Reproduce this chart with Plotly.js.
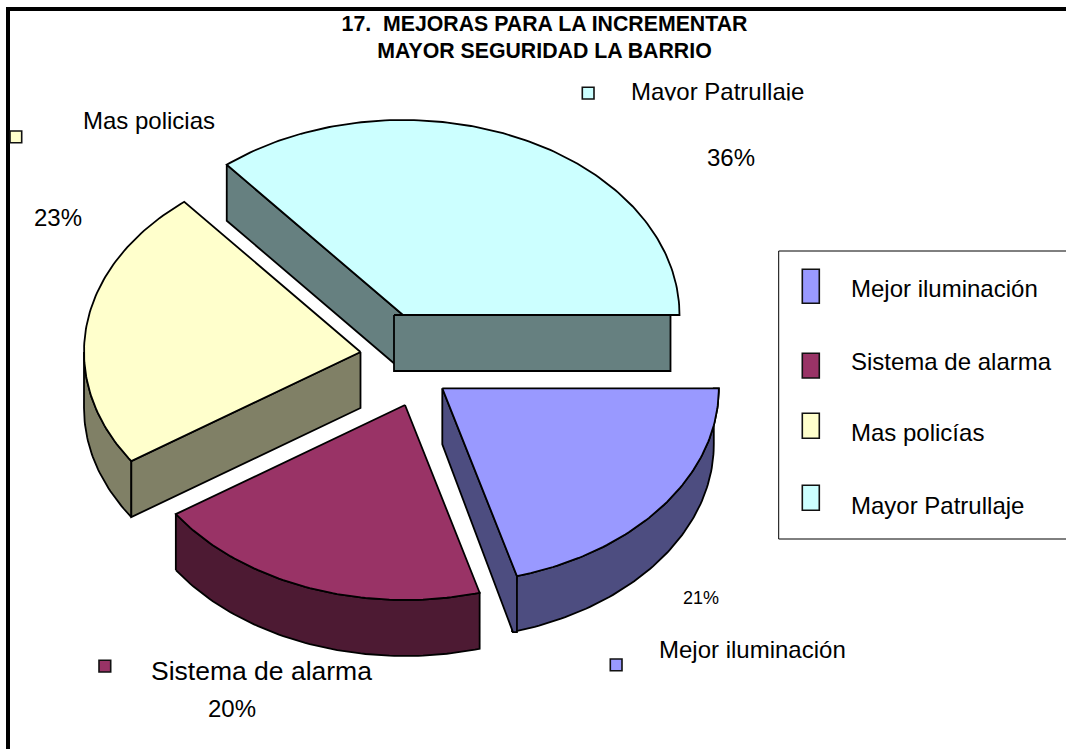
<!DOCTYPE html>
<html><head><meta charset="utf-8">
<script src="https://cdn.plot.ly/plotly-3.0.1.min.js"></script>
<style>html,body{margin:0;padding:0;background:#fff;overflow:hidden}</style>
</head><body><div id="chart" style="width:1066px;height:749px"></div>
<script>
// Data (clockwise from the east, as in the legend)
const categories = ["Mejor iluminación","Sistema de alarma","Mas policías","Mayor Patrullaje"];
const sliceLabels = ["Mejor iluminación","Sistema de alarma","Mas policias","Mayor Patrullaje"];
const values = [20.65, 19.9, 23.45, 36.0];
const topColors = ["#9999FF","#993366","#FFFFCC","#CCFFFF"];
const wallColors = ["#4D4D80","#4D1A33","#808066","#668080"];
const titleLines = ["17.\u00a0\u00a0MEJORAS PARA LA INCREMENTAR","MAYOR SEGURIDAD LA BARRIO"];

// Layout of the exploded, tilted pie (chart units are pixels of the canvas)
const rx = 276.5, ry = 195, depth = 56;
const centerX = [442.3, 405, 360.5, 403];
const centerY = [388.3, 405, 352, 315];
const wallShift = [-5, 0, 0, 0];
const labelPos = [[658,649,24],[150,671,26.5],[82,120,24],[630,91,24]];
const pctPos = [[682,598,18],[207,708,24],[33,217,24],[706,157,24]];
const markPos = [[610.3,659],[99,660.3],[10,131],[582.3,87.3]];
const legendSwatchY = [[269.3,303.3],[353.3,378],[413.3,438.3],[485.3,510.3]];
const legendTextY = [288,361,432,505];

// Slice angles
const t0 = [], t1 = []; let run = 0;
values.forEach((v,i)=>{ t0[i] = -run*3.6; run += v; t1[i] = -run*3.6; });
const pt = (i,t,dx=0,dy=0)=>{ const a=t*Math.PI/180; return [centerX[i]+rx*Math.cos(a)+dx, centerY[i]-ry*Math.sin(a)+dy]; };
const arc = (i,a,b,dx=0,dy=0)=>{ const out=[], n=Math.max(2,Math.ceil(Math.abs(b-a))); for(let k=0;k<=n;k++) out.push(pt(i,a+(b-a)*k/n,dx,dy)); return out; };

const traces = [];
function poly(points,color){
  traces.push({type:"scatter",mode:"lines",x:points.map(p=>p[0]).concat([points[0][0]]),y:points.map(p=>p[1]).concat([points[0][1]]),
    fill:"toself",fillcolor:color,line:{color:"#000",width:1.8,shape:"linear"},hoverinfo:"skip",showlegend:false,cliponaxis:false});
}
function outerWall(i){
  const a=Math.max(t1[i],-180), b=Math.min(t0[i],0);
  if(a>=b) return;
  const low=arc(i,a,b,wallShift[i],depth), top=arc(i,b,a);
  const end=low[low.length-1];
  poly(low.concat([[end[0],pt(i,b)[1]]]).concat(top),wallColors[i]);
}
function cutFace(i,t,sa,se,shiftTop){
  const ax=centerX[i], ay=centerY[i], e=pt(i,t);
  const ta=shiftTop?sa:0, te=shiftTop?se:0;
  poly([[ax+ta,ay],[ax+sa,ay+depth],[e[0]+se,e[1]+depth],[e[0]+te,e[1]+depth],[e[0]+te,e[1]]],wallColors[i]);
}
function topFace(i){ poly([[centerX[i],centerY[i]]].concat(arc(i,t0[i],t1[i])),topColors[i]); }

// Back to front
cutFace(3,t0[3],0,0,false); cutFace(3,t1[3],-9,-9,true); topFace(3);
outerWall(2); cutFace(2,t0[2],0,0,false); topFace(2);
outerWall(1); topFace(1);
outerWall(0); cutFace(0,t1[0],0,-4,false); topFace(0);

const FONT = "'Liberation Sans', Arial, sans-serif";
const txt = (text,x,y,size)=>({text,x,y,xref:"x",yref:"y",xanchor:"left",yanchor:"middle",showarrow:false,borderpad:0,font:{family:FONT,size,color:"#000"}});
const annotations = [];
categories.forEach((c,i)=>annotations.push(txt(c,850,legendTextY[i],24)));
sliceLabels.forEach((c,i)=>annotations.push(txt(c,labelPos[i][0],labelPos[i][1],labelPos[i][2])));
values.forEach((v,i)=>annotations.push(txt(Math.round(v)+"%",pctPos[i][0],pctPos[i][1],pctPos[i][2])));
// the reference crops the descenders of its top label
annotations.push({text:"\u00a0",x:620,y:100,xref:"x",yref:"y",xanchor:"left",yanchor:"top",showarrow:false,width:200,height:10,bgcolor:"#fff",borderpad:0,font:{size:6}});

const swatch=(x0,y0,x1,y1,c)=>({type:"rect",xref:"x",yref:"y",x0,y0,x1,y1,fillcolor:c,line:{color:"#111",width:1.6},layer:"above"});
const shapes = [
  {type:"rect",xref:"x",yref:"y",x0:6,y0:7,x1:10,y1:760,fillcolor:"#000",line:{width:0},layer:"below"},
  {type:"rect",xref:"x",yref:"y",x0:6,y0:7,x1:1080,y1:11,fillcolor:"#000",line:{width:0},layer:"below"},
  {type:"rect",xref:"x",yref:"y",x0:778.7,y0:251,x1:1080,y1:539,fillcolor:"#fff",line:{color:"#000",width:1},layer:"below"}
];
categories.forEach((c,i)=>{
  shapes.push(swatch(802.3,legendSwatchY[i][0],819.3,legendSwatchY[i][1],topColors[i]));
  shapes.push(swatch(markPos[i][0],markPos[i][1],markPos[i][0]+11.7,markPos[i][1]+11.7,topColors[i]));
});

const axis = {visible:false,fixedrange:true,showgrid:false,zeroline:false};
Plotly.newPlot("chart",traces,{
  width:1066,height:749,margin:{l:0,r:0,t:0,b:0},paper_bgcolor:"#fff",plot_bgcolor:"#fff",showlegend:false,
  title:{text:titleLines.join("<br>"),x:544.5/1066,xref:"paper",xanchor:"center",y:1-30.5/749,yref:"paper",yanchor:"top",pad:{t:0,b:0,l:0,r:0},font:{family:FONT,size:21.3,color:"#000",weight:"bold"}},
  xaxis:Object.assign({range:[0,1066]},axis),
  yaxis:Object.assign({range:[749,0]},axis),
  annotations,shapes,hovermode:false
},{displayModeBar:false,staticPlot:true});
</script></body></html>
